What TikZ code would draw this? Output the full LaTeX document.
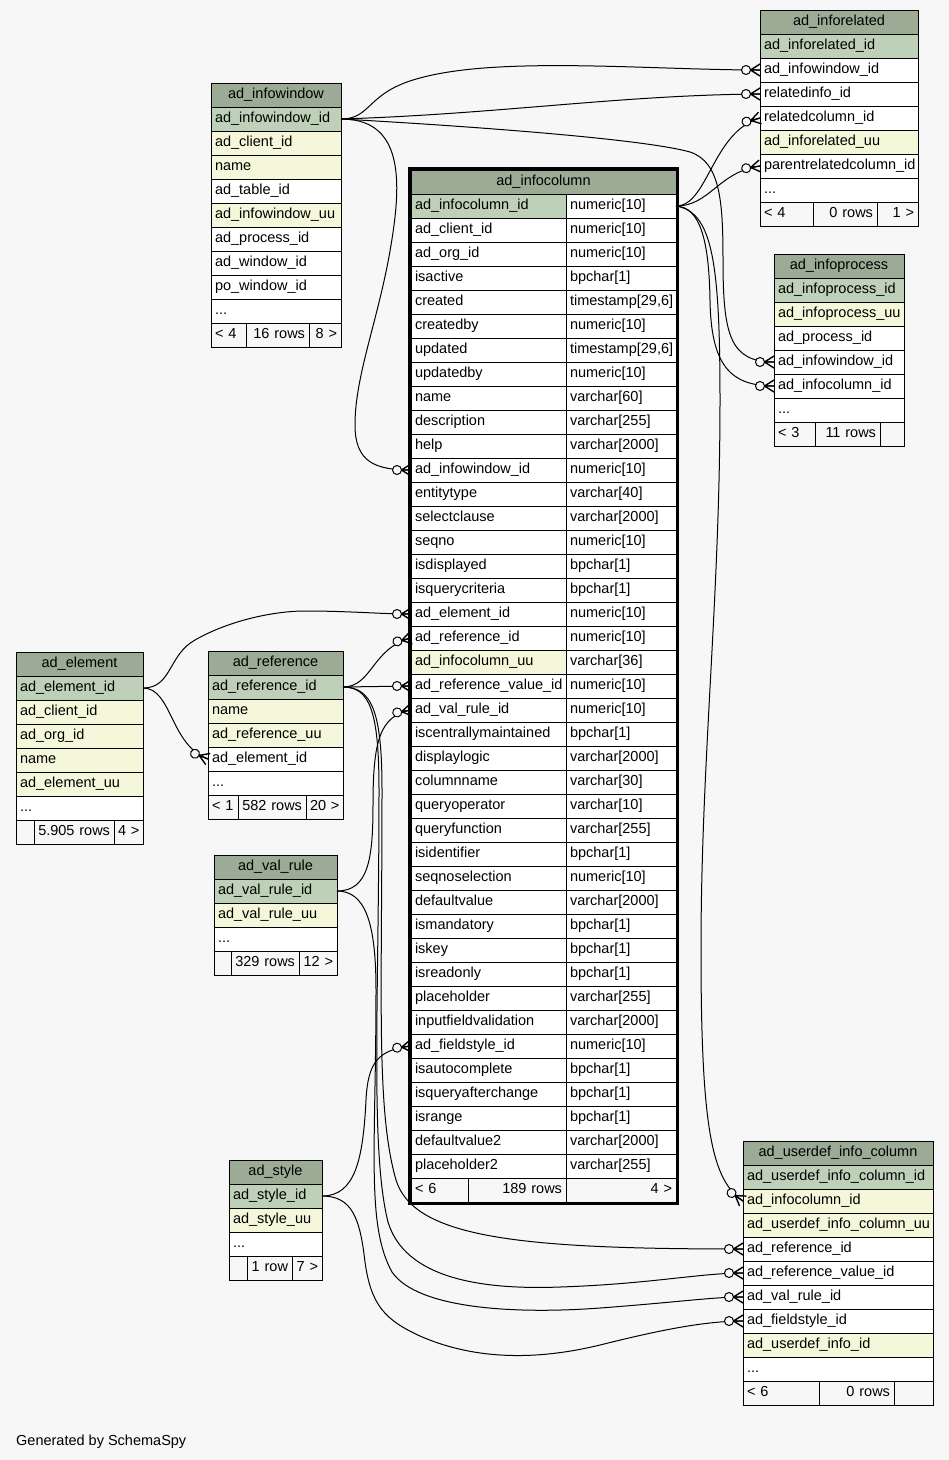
\documentclass[tikz,border=0pt]{standalone}
\usepackage{fontspec}
\setmainfont{Liberation Sans}
\usepackage{tikz}
\usetikzlibrary{positioning}
\usetikzlibrary{fit}
\definecolor{bg}{HTML}{F7F7F7}
\definecolor{hdrc}{HTML}{9BAB96}
\definecolor{pkc}{HTML}{BED1B8}
\definecolor{ixc}{HTML}{F4F7DA}
% name, x, y, width, title, rows
\newcommand{\dbtable}[6]{%
  \node(#1)[hdr=#4,alias=#10] at (#2,#3){#5};
  \foreach \nm/\fc [count=\ii, remember=\ii as \jj (initially 0)] in {#6}
    \node(#1\ii)[cell=#4,fill=\fc,below=0pt of #1\jj]{\mbox{\nm}};}
% name, last row, three cells
\newcommand{\tfoot}[8]{%
  \node(#1f1)[foot=#3,anchor=north west] at (#2.south west){\mbox{#4}};
  \node(#1f2)[foot=#5,align=right,right=0pt of #1f1]{\mbox{#6}};
  \node(#1f3)[foot=#7,align=right,right=0pt of #1f2]{\mbox{#8}};}

\begin{document}
\begin{tikzpicture}[
        x=1pt, y=-1pt,
        every node/.style={font=\fontsize{14.5}{17}\selectfont},
        cell/.style={draw=black,line width=1pt,fill=white,minimum height=24pt,
                     inner xsep=4pt,inner ysep=0pt,outer sep=0pt,
                     text height=11pt,text depth=4pt,text width=#1pt-8pt,align=left},
        hdr/.style={cell=#1,fill=hdrc,align=center,anchor=north west},
        foot/.style={cell=#1,fill=bg},
        fk/.style={draw=black,line width=1pt},
        crowodot/.pic={
          \draw[line width=1pt,fill=bg] (-14,0) circle (4.5pt);
          \draw[line width=1.4pt] (-9.5,0) -- (0,-6) (-9.5,0) -- (0,0) (-9.5,0) -- (0,6);}
      ]
      \fill[bg] (0,0) rectangle (949,1460);

      % the big table
      \node(ic)[hdr=265,alias=ic0] at (411,170){ad\_infocolumn};
      \foreach \nm/\ty/\fc [count=\ii, remember=\ii as \jj (initially 0)] in {
        ad\_infocolumn\_id/numeric[10]/pkc, ad\_client\_id/numeric[10]/white,
        ad\_org\_id/numeric[10]/white, isactive/bpchar[1]/white,
        created/{timestamp[29,6]}/white, createdby/numeric[10]/white,
        updated/{timestamp[29,6]}/white, updatedby/numeric[10]/white,
        name/varchar[60]/white, description/varchar[255]/white,
        help/varchar[2000]/white, ad\_infowindow\_id/numeric[10]/white,
        entitytype/varchar[40]/white, selectclause/varchar[2000]/white,
        seqno/numeric[10]/white, isdisplayed/bpchar[1]/white,
        isquerycriteria/bpchar[1]/white, ad\_element\_id/numeric[10]/white,
        ad\_reference\_id/numeric[10]/white, ad\_infocolumn\_uu/varchar[36]/ixc,
        ad\_reference\_value\_id/numeric[10]/white, ad\_val\_rule\_id/numeric[10]/white,
        iscentrallymaintained/bpchar[1]/white, displaylogic/varchar[2000]/white,
        columnname/varchar[30]/white, queryoperator/varchar[10]/white,
        queryfunction/varchar[255]/white, isidentifier/bpchar[1]/white,
        seqnoselection/numeric[10]/white, defaultvalue/varchar[2000]/white,
        ismandatory/bpchar[1]/white, iskey/bpchar[1]/white,
        isreadonly/bpchar[1]/white, placeholder/varchar[255]/white,
        inputfieldvalidation/varchar[2000]/white, ad\_fieldstyle\_id/numeric[10]/white,
        isautocomplete/bpchar[1]/white, isqueryafterchange/bpchar[1]/white,
        isrange/bpchar[1]/white, defaultvalue2/varchar[2000]/white,
        placeholder2/varchar[255]/white}
      {
        \node(ic\ii)[cell=155,fill=\fc,anchor=north west] at (ic\jj.south west){\mbox{\nm}};
        \node(ict\ii)[cell=110,anchor=north west] at (ic\ii.north east){\mbox{\ty}};
      }
      \tfoot{ic}{ic41}{57}{< 6}{98}{189 rows}{110}{4 >}
      \node(icbox)[draw,line width=3pt,inner sep=1.5pt,fit=(ic)(icf3)]{};

      % the other tables
      \dbtable{iw}{211}{83}{130}{ad\_infowindow}{ad\_infowindow\_id/pkc, ad\_client\_id/ixc,
        name/ixc, ad\_table\_id/white, ad\_infowindow\_uu/ixc, ad\_process\_id/white,
        ad\_window\_id/white, po\_window\_id/white, .{}.{}./white}
      \tfoot{iw}{iw9}{35}{< 4}{63}{16 rows}{32}{8 >}
      \dbtable{ir}{760}{10}{158}{ad\_inforelated}{ad\_inforelated\_id/pkc, ad\_infowindow\_id/white,
        relatedinfo\_id/white, relatedcolumn\_id/white, ad\_inforelated\_uu/ixc,
        parentrelatedcolumn\_id/white, .{}.{}./white}
      \tfoot{ir}{ir7}{53}{< 4}{64}{0 rows}{41}{1 >}
      \dbtable{ip}{774}{254}{130}{ad\_infoprocess}{ad\_infoprocess\_id/pkc, ad\_infoprocess\_uu/ixc,
        ad\_process\_id/white, ad\_infowindow\_id/white, ad\_infocolumn\_id/white, .{}.{}./white}
      \tfoot{ip}{ip6}{41}{< 3}{65}{11 rows}{24}{}
      \dbtable{el}{16}{652}{127}{ad\_element}{ad\_element\_id/pkc, ad\_client\_id/ixc,
        ad\_org\_id/ixc, name/ixc, ad\_element\_uu/ixc, .{}.{}./white}
      \tfoot{el}{el6}{18}{}{80}{5.905 rows}{29}{4 >}
      \dbtable{rf}{208}{651}{135}{ad\_reference}{ad\_reference\_id/pkc, name/ixc,
        ad\_reference\_uu/ixc, ad\_element\_id/white, .{}.{}./white}
      \tfoot{rf}{rf5}{30}{< 1}{68}{582 rows}{37}{20 >}
      \dbtable{vr}{214}{855}{123}{ad\_val\_rule}{ad\_val\_rule\_id/pkc, ad\_val\_rule\_uu/ixc,
        .{}.{}./white}
      \tfoot{vr}{vr3}{17}{}{68}{329 rows}{38}{12 >}
      \dbtable{st}{229}{1160}{93}{ad\_style}{ad\_style\_id/pkc, ad\_style\_uu/ixc, .{}.{}./white}
      \tfoot{st}{st3}{18}{}{45}{1 row}{30}{7 >}
      \dbtable{ud}{743}{1141}{190}{ad\_userdef\_info\_column}{ad\_userdef\_info\_column\_id/pkc,
        ad\_infocolumn\_id/ixc, ad\_userdef\_info\_column\_uu/ixc, ad\_reference\_id/white,
        ad\_reference\_value\_id/white, ad\_val\_rule\_id/white, ad\_fieldstyle\_id/white,
        ad\_userdef\_info\_id/ixc, .{}.{}./white}
      \tfoot{ud}{ud9}{76}{< 6}{75}{0 rows}{39}{}

      % foreign keys
      \draw[fk] (iw1.east) .. controls (372,119) and (366,92) .. (420,78)
                .. controls (500,56) and (650,70) .. (ir2.west) pic{crowodot};
      \draw[fk] (iw1.east) .. controls (500,114) and (620,95) .. (ir3.west) pic{crowodot};
      \draw[fk] (iw1.east) .. controls (450,125) and (640,138) .. (690,152)
                .. controls (720,162) and (723,200) .. (723,260)
                .. controls (723,335) and (730,362) .. (ip4.west) pic{crowodot};
      \draw[fk] (iw1.east) .. controls (395,119) and (402,165) .. (394,225)
                .. controls (383,310) and (355,370) .. (355,425)
                .. controls (355,462) and (375,470) .. (ic12.west) pic{crowodot};
      \draw[fk] (ict1.east) .. controls (708,206) and (712,132) .. (ir4.west) pic[rotate=15]{crowodot};
      \draw[fk] (ict1.east) .. controls (710,206) and (718,172) .. (ir6.west) pic[rotate=9]{crowodot};
      \draw[fk] (ict1.east) .. controls (700,207) and (709,240) .. (710,300)
                .. controls (711,365) and (730,386) .. (ip5.west) pic{crowodot};
      \draw[fk] (ict1.east) .. controls (712,212) and (720,260) .. (720,400)
                .. controls (720,600) and (701,760) .. (701,950)
                .. controls (701,1130) and (712,1180) .. (ud2.west) pic[rotate=-35]{crowodot};
      \draw[fk] (el1.east) .. controls (172,688) and (168,655) .. (195,640)
                .. controls (230,620) and (275,611) .. (305,611)
                .. controls (350,611) and (380,614) .. (ic18.west) pic{crowodot};
      \draw[fk] (el1.east) .. controls (172,688) and (170,745) .. (rf4.west) pic[rotate=-22]{crowodot};
      \draw[fk] (rf1.east) .. controls (372,687) and (372,648) .. (ic19.west) pic[rotate=14]{crowodot};
      \draw[fk] (rf1.east) -- (ic21.west) pic{crowodot};
      \draw[fk] (rf1.east) .. controls (372,687) and (382,712) .. (382,790)
                .. controls (382,1000) and (376,1110) .. (396,1180)
                .. controls (414,1238) and (520,1249) .. (ud4.west) pic{crowodot};
      \draw[fk] (rf1.east) .. controls (370,687) and (379,712) .. (379,790)
                .. controls (379,1000) and (370,1150) .. (388,1222)
                .. controls (405,1278) and (480,1290) .. (560,1287)
                .. controls (650,1284) and (700,1273) .. (ud5.west) pic{crowodot};
      \draw[fk] (vr1.east) .. controls (368,891) and (373,860) .. (373,805)
                .. controls (373,740) and (380,716) .. (ic22.west) pic[rotate=10]{crowodot};
      \draw[fk] (vr1.east) .. controls (365,891) and (376,922) .. (376,990)
                .. controls (376,1150) and (366,1225) .. (392,1272)
                .. controls (418,1310) and (520,1314) .. (600,1308)
                .. controls (680,1302) and (712,1297) .. (ud6.west) pic{crowodot};
      \draw[fk] (st1.east) .. controls (355,1196) and (363,1160) .. (366,1100)
                .. controls (368,1062) and (378,1050) .. (ic36.west) pic[rotate=7]{crowodot};
      \draw[fk] (st1.east) .. controls (352,1196) and (360,1218) .. (365,1262)
                .. controls (371,1305) and (385,1320) .. (420,1336)
                .. controls (470,1358) and (530,1362) .. (600,1345)
                .. controls (660,1330) and (705,1321) .. (ud7.west) pic{crowodot};

      \node(gen)[anchor=base west,inner sep=0pt] at (16,1445){Generated by SchemaSpy};
    \end{tikzpicture}
\end{document}
